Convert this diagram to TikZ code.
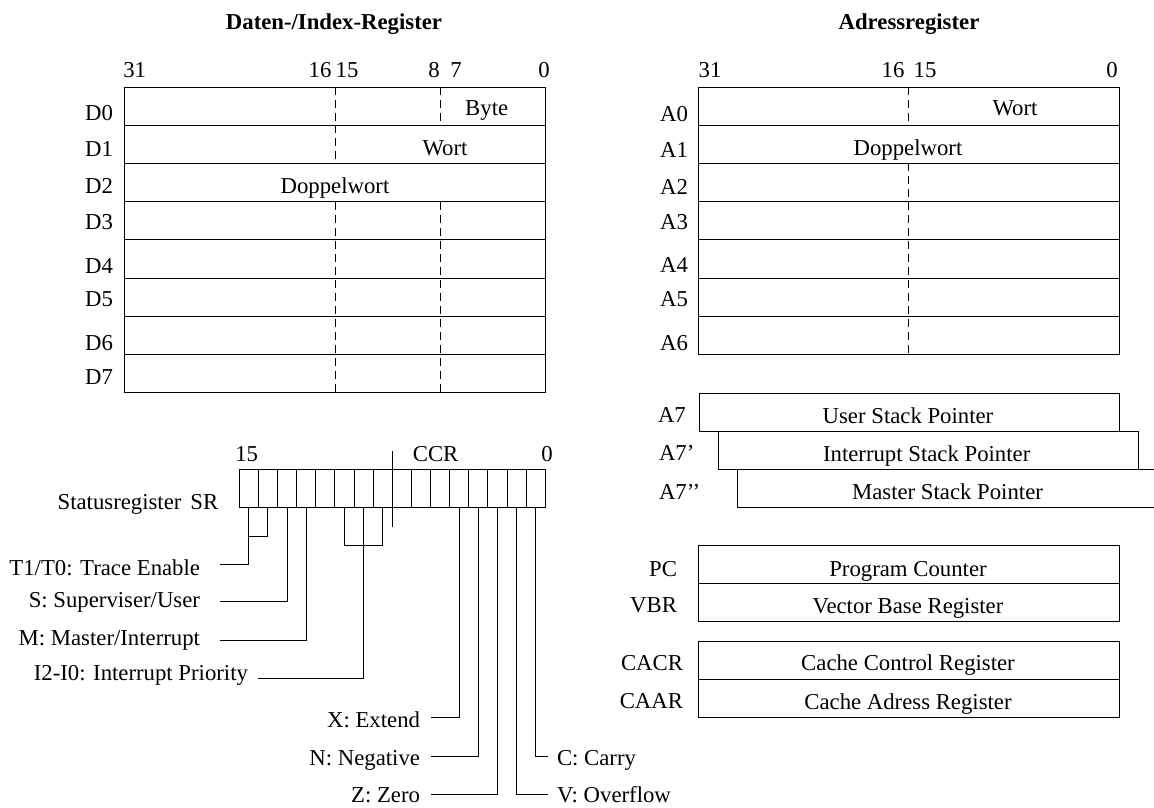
\documentclass[tikz,border=0pt]{standalone}
\usepackage{fontspec}
\setmainfont{Liberation Serif}
\begin{document}
\begin{tikzpicture}[x=1pt,y=-1pt,line width=1pt,
  every node/.style={inner sep=0pt,outer sep=0pt,font=\fontsize{22.75}{27}\selectfont,text height=15pt,text depth=0pt},
  reg/.style={draw,minimum width=421pt,minimum height=38.2pt},
  sreg/.style={draw,minimum width=420pt,minimum height=38pt},
  cell/.style={draw,minimum width=19.125pt,minimum height=38pt},
  dsh/.style={dash pattern=on 8pt off 5pt},
  ttl/.style={font=\fontsize{22.75}{27}\selectfont\bfseries}]
\useasboundingbox (0,0) rectangle (1154,807);
\clip (0,0) rectangle (1154,807);

% titles
\node[ttl] (t1) at (334,21.7) {Daten-/Index-Register};
\node[ttl] (t2) at (909,21.7) {Adressregister};

% bit numbers data
\node (d31) at (134.7,70) {31};
\node (d16) at (320,70) {16};
\node (d15) at (347,70) {15};
\node (d8) at (434,70) {8};
\node (d7) at (456,70) {7};
\node (d0n) at (544,70) {0};
% bit numbers address
\node (a31) at (710,70) {31};
\node (a16) at (893,70) {16};
\node (a15) at (925,70) {15};
\node (a0n) at (1112,70) {0};

% data registers
\foreach \k/\ly in {0/113,1/149,2/186,3/222,4/266,5/299,6/343,7/377}{
  \pgfmathsetmacro\cy{87+38.2*(\k+0.5)}
  \node[reg] (D\k) at (334.5,\cy) {};
  \node[anchor=east] (Dl\k) at (113,\ly) {D\k};
}
\draw[dsh] (335,87) -- (335,125.2);
\draw[dsh] (440.5,87) -- (440.5,125.2);
\draw[dsh] (335,125.2) -- (335,163.4);
\draw[dsh] (335,201.6) -- (335,392.6);
\draw[dsh] (440.5,201.6) -- (440.5,392.6);
\node (byte) at (486.7,108) {Byte};
\node (dw1) at (445,148) {Wort};
\node (ddw) at (335,186) {Doppelwort};

% address registers
\foreach \k/\ly in {0/114,1/150,2/187,3/222,4/265,5/299,6/343}{
  \pgfmathsetmacro\cy{87+38.2*(\k+0.5)}
  \node[reg] (A\k) at (908.5,\cy) {};
  \node[anchor=east] (Al\k) at (688,\ly) {A\k};
}
\draw[dsh] (908.5,87) -- (908.5,125.2);
\draw[dsh] (908.5,163.4) -- (908.5,354.4);
\node (aw) at (1015,108) {Wort};
\node (adw) at (908,148) {Doppelwort};

% stack pointers
\node[sreg] (usp) at (909,412) {};
\node[sreg] (isp) at (928.5,450) {};
\node[sreg] (msp) at (947.5,488) {};
\node (uspt) at (908,415.5) {User Stack Pointer};
\node (ispt) at (926.7,454) {Interrupt Stack Pointer};
\node (mspt) at (947.5,492) {Master Stack Pointer};
\node[anchor=west] (a7) at (658,415) {A7};
\node[anchor=west] (a7p) at (659,453) {A7'};
\node[anchor=west] (a7pp) at (659,491.7) {A7'{}'};

% PC / VBR
\node[reg,minimum height=37.6pt] (pc) at (908.5,564.5) {};
\node[reg,minimum height=38.4pt] (vbr) at (908.5,602.5) {};
\node (pct) at (908,569) {Program Counter};
\node (vbrt) at (908,606) {Vector Base Register};
\node[anchor=east] (pcl) at (677,569) {PC};
\node[anchor=east] (vbrl) at (677,605) {VBR};
% CACR / CAAR
\node[reg,minimum height=37.6pt] (cacr) at (908.5,660.5) {};
\node[reg,minimum height=38.4pt] (caar) at (908.5,698.5) {};
\node (cacrt) at (908,663) {Cache Control Register};
\node (caart) at (908,701.7) {Cache Adress Register};
\node[anchor=east] (cacrl) at (683,663) {CACR};
\node[anchor=east] (caarl) at (683,701) {CAAR};

% status register
\foreach \i in {0,...,15}{
  \pgfmathsetmacro\cx{239.3+19.125*(\i+0.5)}
  \pgfmathtruncatemacro\bb{15-\i}
  \node[cell] (b\bb) at (\cx,488) {};
}
\node (s15) at (246.7,453.5) {15};
\node (ccr) at (435.6,454) {CCR};
\node (s0) at (547,454) {0};
\node[anchor=east] (srl) at (218.3,502) {Statusregister\hspace{9pt}SR};
\coordinate (ccrt) at (392.3,451);
\coordinate (ccrb) at (392.3,527);
\draw (ccrt) -- (ccrb);

% labels of the flags
\node[anchor=east] (tt) at (200,568) {T1/T0: Trace Enable};
\node[anchor=east] (su) at (200,600) {S: Superviser/User};
\node[anchor=east] (mi) at (200,638) {M: Master/Interrupt};
\node[anchor=east] (ip) at (248,673) {I2-I0: Interrupt Priority};
\node[anchor=east] (xe) at (420,720) {X: Extend};
\node[anchor=east] (nn) at (420,758) {N: Negative};
\node[anchor=east] (zz) at (420,795) {Z: Zero};
\node[anchor=west] (vo) at (557,795) {V: Overflow};
\node[anchor=west] (cc) at (557,758) {C: Carry};

% connectors
\coordinate (tj) at (0,536);
\draw (b14.south) |- (b15.south |- tj);
\draw (b15.south) |- ([xshift=20pt,yshift=3.5pt]tt.east);
\draw (b13.south) |- ([xshift=20pt,yshift=-1.7pt]su.east);
\draw (b12.south) |- ([xshift=20pt,yshift=-2pt]mi.east);
\coordinate (ij) at (0,545.7);
\draw (b10.south) |- (b8.south |- ij) -- (b8.south);
\draw (b9.south) |- ([xshift=10pt,yshift=-5.3pt]ip.east);
\draw (b4.south) |- ([xshift=10.7pt,yshift=2.3pt]xe.east);
\draw (b3.south) |- ([xshift=10.7pt,yshift=2pt]nn.east);
\draw (b2.south) |- ([xshift=10.7pt,yshift=0.7pt]zz.east);
\draw (b1.south) |- ([xshift=-9pt,yshift=0.7pt]vo.west);
\draw (b0.south) |- ([xshift=-9pt,yshift=2pt]cc.west);
\end{tikzpicture}
\end{document}
